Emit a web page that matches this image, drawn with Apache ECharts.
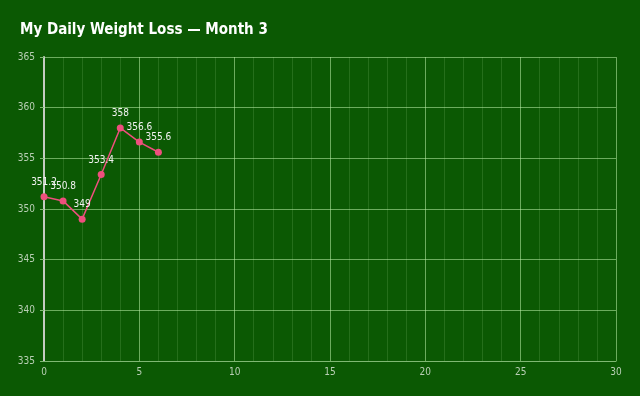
<!DOCTYPE html>
<html><head><meta charset="utf-8">
<script src="https://cdn.jsdelivr.net/npm/echarts@6/dist/echarts.min.js"></script>
<style>html,body{margin:0;padding:0;background:#0b5903;}#c{width:640px;height:396px;}</style>
</head><body><div id="c"></div>
<script>
var days = [0, 1, 2, 3, 4, 5, 6];
var weights = [351.2, 350.8, 349, 353.4, 358, 356.6, 355.6];
var titleText = 'My Daily Weight Loss \u2014 Month 3';
var fam = '"DejaVu Sans Condensed", "DejaVu Sans", sans-serif';

var chart = echarts.init(document.getElementById('c'));
chart.setOption({
  backgroundColor: '#0b5903',
  animation: false,
  title: {
    text: titleText, left: 15, top: 18,
    textStyle: {color: '#ffffff', fontFamily: fam, fontSize: 15, fontWeight: 'bold'}
  },
  grid: {left: 44, right: 24, top: 57, bottom: 35},
  xAxis: {
    type: 'value', min: 0, max: 30, interval: 5,
    axisLine: {show: true, lineStyle: {color: '#7fb873', width: 1}},
    axisTick: {show: false},
    axisLabel: {color: '#b9cfb5', fontFamily: fam, fontSize: 10, margin: 6},
    splitLine: {show: true, lineStyle: {color: 'rgba(190,240,170,0.55)', width: 1}},
    minorTick: {show: false, splitNumber: 5},
    minorSplitLine: {show: true, lineStyle: {color: 'rgba(190,240,170,0.15)', width: 1}}
  },
  yAxis: {
    type: 'value', min: 335, max: 365, interval: 5,
    axisLine: {show: true, lineStyle: {color: '#c4ccc2', width: 2}},
    axisTick: {show: true, length: 4, lineStyle: {color: '#7fb873'}},
    axisLabel: {color: '#b9cfb5', fontFamily: fam, fontSize: 10, margin: 9},
    splitLine: {show: true, lineStyle: {color: 'rgba(190,240,170,0.55)', width: 1}}
  },
  series: [{
    type: 'line',
    data: days.map(function(d, i){ return [d, weights[i]]; }),
    symbol: 'circle', symbolSize: 7,
    lineStyle: {color: '#ee4f7d', width: 1.5},
    itemStyle: {color: '#ee4f7d'},
    label: {show: true, position: 'top', distance: 6, color: '#f2f2f2', fontFamily: fam, fontSize: 10,
      formatter: function(p){ return p.value[1]; }}
  }]
});
</script></body></html>
